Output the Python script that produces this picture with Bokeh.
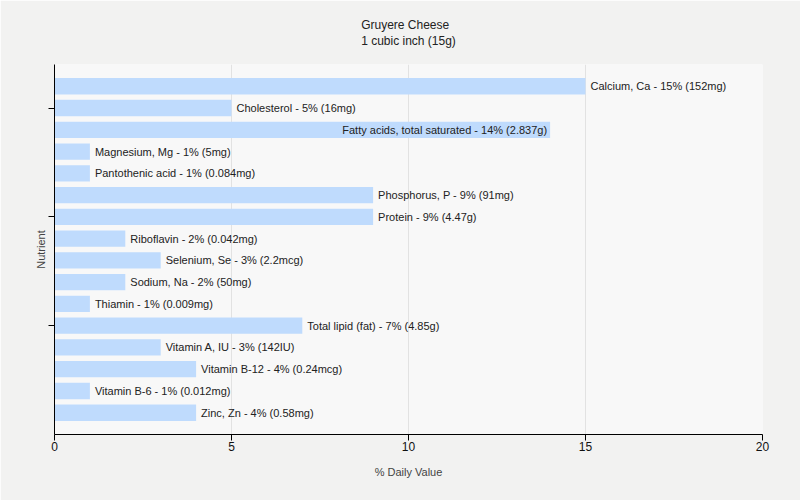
import numpy as np
from bokeh.plotting import figure
from bokeh.models import ColumnDataSource, Range1d, Title, FixedTicker, LabelSet
from bokeh.core.properties import value
from bokeh.embed import file_html
from bokeh.resources import INLINE

nutrients = ["Calcium, Ca", "Cholesterol", "Fatty acids, total saturated", "Magnesium, Mg",
             "Pantothenic acid", "Phosphorus, P", "Protein", "Riboflavin", "Selenium, Se",
             "Sodium, Na", "Thiamin", "Total lipid (fat)", "Vitamin A, IU", "Vitamin B-12",
             "Vitamin B-6", "Zinc, Zn"]
daily_values = [15, 5, 14, 1, 1, 9, 9, 2, 3, 2, 1, 7, 3, 4, 1, 4]
amounts = ["152mg", "16mg", "2.837g", "5mg", "0.084mg", "91mg", "4.47g", "0.042mg", "2.2mcg",
           "50mg", "0.009mg", "4.85g", "142IU", "0.24mcg", "0.012mg", "0.58mg"]
x_ticks = [0, 5, 10, 15, 20]
title = "Gruyere Cheese"
subtitle = "1 cubic inch (15g)"

FONT = "Liberation Sans"

idx = list(range(len(nutrients)))
labels = [f"{n} - {v}% ({a})" for n, v, a in zip(nutrients, daily_values, amounts)]
inside = [n == "Fatty acids, total saturated" for n in nutrients]  # overflowing label drawn inside

out_src = ColumnDataSource(dict(
    y=[i for i, f in zip(idx, inside) if not f],
    x=[v for v, f in zip(daily_values, inside) if not f],
    t=[l for l, f in zip(labels, inside) if not f]))
in_src = ColumnDataSource(dict(
    y=[i for i, f in zip(idx, inside) if f],
    x=[v for v, f in zip(daily_values, inside) if f],
    t=[l for l, f in zip(labels, inside) if f]))
src = ColumnDataSource(dict(y=idx, right=daily_values))

p = figure(width=800, height=500, output_backend="svg", toolbar_location=None,
           x_range=Range1d(0, 20), y_range=Range1d(16, -1),
           min_border_left=54, min_border_right=38, min_border_top=64, min_border_bottom=66)
p.background_fill_color = "#f8f8f8"
p.border_fill_color = "#f2f2f1"
p.outline_line_color = None

# decorative horizontal background gradient (grey -> white -> grey)
ncol = 200
xs = np.linspace(0, 1, ncol)
peak = 0.6
shade = np.where(xs < peak, 240 + (255 - 240) * (xs / peak),
                 255 - (255 - 240) * ((xs - peak) / (1 - peak)))
shade = shade.astype(np.uint32)
img = np.empty((1, ncol), dtype=np.uint32)
view = img.view(dtype=np.uint8).reshape((1, ncol, 4))
view[0, :, 0] = shade
view[0, :, 1] = shade
view[0, :, 2] = shade
view[0, :, 3] = 255
p.image_rgba(image=[img], x=0, y=16, dw=20, dh=17)

p.add_layout(Title(text=title + "\n" + subtitle, align="center", text_font=FONT,
                   text_font_size="12px", text_font_style="normal", text_color="#222222",
                   text_line_height=1.15, standoff=32), "above")

p.hbar(y="y", left=0, right="right", height=0.75, source=src,
       fill_color="#bfdbfd", line_color=None)

p.add_layout(LabelSet(x="x", y="y", text="t", source=out_src, x_offset=5,
                      text_baseline="middle", text_align="left", text_font=value(FONT),
                      text_font_size=value("11px"), text_color="#222222"))
p.add_layout(LabelSet(x="x", y="y", text="t", source=in_src, x_offset=-3,
                      text_baseline="middle", text_align="right", text_font=value(FONT),
                      text_font_size=value("11px"), text_color="#222222"))

p.xaxis.ticker = FixedTicker(ticks=x_ticks)
p.xaxis.minor_tick_line_color = None
p.xaxis.major_tick_out = 6
p.xaxis.major_tick_in = 0
p.xaxis.axis_label = "% Daily Value"
p.xaxis.axis_label_text_font = FONT
p.xaxis.axis_label_text_font_size = "11px"
p.xaxis.axis_label_text_font_style = "normal"
p.xaxis.axis_label_standoff = 12
p.xaxis.major_label_standoff = 1
p.xaxis.major_label_text_font = FONT
p.xaxis.major_label_text_font_size = "12px"
p.xaxis.major_label_text_color = "#111111"
p.xaxis.axis_line_color = "black"

p.yaxis.ticker = FixedTicker(ticks=[1, 6, 11])
p.yaxis.major_label_overrides = {1: "", 6: "", 11: ""}
p.yaxis.minor_tick_line_color = None
p.yaxis.major_tick_out = 6
p.yaxis.major_tick_in = 0
p.yaxis.axis_label = "Nutrient"
p.yaxis.axis_label_text_font = FONT
p.yaxis.axis_label_text_font_size = "11px"
p.yaxis.axis_label_text_font_style = "normal"
p.yaxis.axis_label_standoff = 2
p.yaxis.axis_line_color = "black"

p.xgrid.grid_line_color = "#e2e2e2"
p.xgrid.level = "image"
p.ygrid.grid_line_color = None

open("out.html", "w").write(file_html(p, INLINE))
